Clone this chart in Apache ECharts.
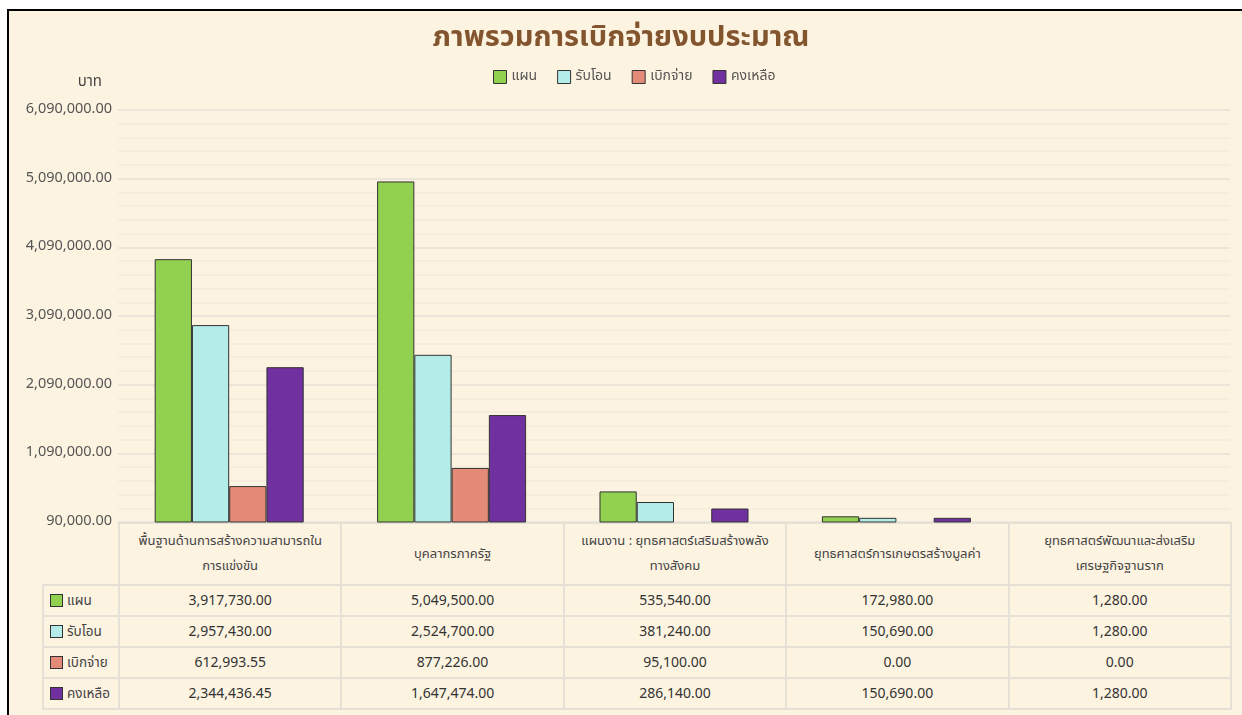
<!DOCTYPE html>
<html>
<head>
<meta charset="utf-8">
<script src="https://cdn.jsdelivr.net/npm/echarts@6/dist/echarts.min.js"></script>
<style>
  html, body { margin:0; padding:0; background:#ffffff; width:1242px; height:715px; overflow:hidden; }
  #frame { position:absolute; left:7px; top:9px; width:1235px; height:706px; background:#FDF3E1;
           border-left:2px solid #000; border-top:2px solid #000; box-sizing:border-box; }
  #chart { position:absolute; left:0; top:0; width:1242px; height:715px; z-index:2; }
  #tbl { position:absolute; left:42px; top:522px; z-index:1; border-collapse:collapse; table-layout:fixed;
         font-family: Tahoma, 'Noto Sans Thai', 'Leelawadee UI', 'Noto Sans', sans-serif; font-size:14px; color:#333; }
  #tbl td { border:2px solid #E6E1D7; text-align:center; padding:0; }
  #tbl td.hc { line-height:25px; height:60px; color:#444; font-size:13px; }
  #tbl td.hc div { width:190px; margin:0 auto; }
  #tbl td.dc { height:29px; }
  #tbl td.rh { text-align:left; padding-left:6px; white-space:nowrap; color:#444; font-size:13.5px; }
  #tbl td.corner { border-top:none; border-left:none; }
  .sw { display:inline-block; width:11px; height:11px; border:1px solid #333; vertical-align:-2px; margin-right:4px; }
</style>
</head>
<body>
<div id="frame"></div>
<table id="tbl"></table>
<div id="chart"></div>
<script>
const titleText = 'ภาพรวมการเบิกจ่ายงบประมาณ';
const unitText = 'บาท';
const categories = [
  'พื้นฐานด้านการสร้างความสามารถในการแข่งขัน',
  'บุคลากรภาครัฐ',
  'แผนงาน : ยุทธศาสตร์เสริมสร้างพลังทางสังคม',
  'ยุทธศาสตร์การเกษตรสร้างมูลค่า',
  'ยุทธศาสตร์พัฒนาและส่งเสริมเศรษฐกิจฐานราก'
];
const seriesNames = ['แผน', 'รับโอน', 'เบิกจ่าย', 'คงเหลือ'];
const planValues = [3917730.00, 5049500.00, 535540.00, 172980.00, 1280.00];
const transferValues = [2957430.00, 2524700.00, 381240.00, 150690.00, 1280.00];
const disbursedValues = [612993.55, 877226.00, 95100.00, 0.00, 0.00];
const remainingValues = [2344436.45, 1647474.00, 286140.00, 150690.00, 1280.00];
const seriesColors = ['#92D050', '#B4ECE8', '#E48A78', '#7030A0'];
const yMin = 90000, yMax = 6090000, yStep = 1000000;

const allValues = [planValues, transferValues, disbursedValues, remainingValues];
const fmt = v => v.toLocaleString('en-US', {minimumFractionDigits:2, maximumFractionDigits:2});

// data table
const tbl = document.getElementById('tbl');
const colW = [76].concat(categories.map(() => 222.4));
let html = '<colgroup>' + colW.map(w => '<col style="width:' + w + 'px">').join('') + '</colgroup>';
html += '<tr><td class="corner"></td>' + categories.map(c => '<td class="hc"><div>' + c + '</div></td>').join('') + '</tr>';
seriesNames.forEach((n, i) => {
  html += '<tr><td class="rh dc"><span class="sw" style="background:' + seriesColors[i] + '"></span>' + n + '</td>' +
    allValues[i].map(v => '<td class="dc">' + fmt(v) + '</td>').join('') + '</tr>';
});
tbl.innerHTML = html;
tbl.style.width = colW.reduce((a, b) => a + b, 0) + 'px';

const chart = echarts.init(document.getElementById('chart'), null, {renderer:'canvas'});
const fontFam = "Tahoma, 'Noto Sans Thai', 'Leelawadee UI', 'Noto Sans', sans-serif";
chart.setOption({
  backgroundColor: 'transparent',
  animation: false,
  textStyle: { fontFamily: fontFam },
  title: {
    text: titleText, left: 'center', top: 21,
    textStyle: { fontSize: 29, fontWeight: 'bold', color: '#83552F', fontFamily: fontFam }
  },
  legend: {
    data: seriesNames, left: 488, top: 65, itemWidth: 13, itemHeight: 13, itemGap: 20,
    icon: 'rect',
    itemStyle: { borderColor: '#333', borderWidth: 1 },
    textStyle: { fontSize: 14, color: '#555', fontFamily: fontFam }
  },
  grid: { left: 118, right: 12, top: 110, bottom: 193, containLabel: false },
  xAxis: {
    type: 'category', data: categories,
    axisLine: { show: false }, axisTick: { show: false }, axisLabel: { show: false }
  },
  yAxis: {
    type: 'value', min: yMin, max: yMax, interval: yStep,
    name: unitText, nameLocation: 'end', nameGap: 20,
    nameTextStyle: { align: 'right', padding: [0, 16, 0, 0], fontSize: 15, color: '#444', fontFamily: fontFam },
    axisLine: { show: false }, axisTick: { show: false },
    axisLabel: { formatter: v => fmt(v), fontSize: 14.5, color: '#555', margin: 6, fontFamily: fontFam },
    splitLine: { lineStyle: { color: '#E6E1D7', width: 1.5 } },
    minorTick: { show: false, splitNumber: 5 },
    minorSplitLine: { show: true, lineStyle: { color: '#F3EBDC', width: 1.5 } }
  },
  series: seriesNames.map((n, i) => ({
    name: n, type: 'bar', data: allValues[i],
    barGap: '0%', barCategoryGap: '33%',
    itemStyle: { color: seriesColors[i], borderColor: '#333', borderWidth: 1 }
  }))
});
</script>
</body>
</html>
